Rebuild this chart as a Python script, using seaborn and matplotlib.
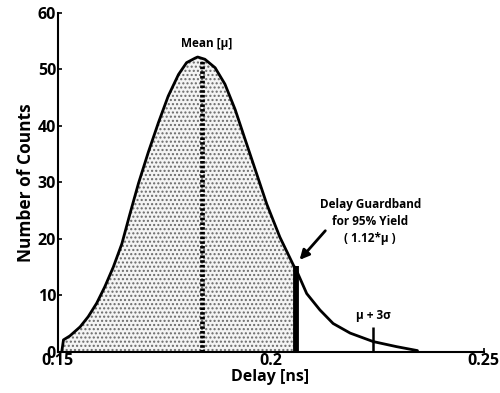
import matplotlib
matplotlib.use("Agg")
import matplotlib.pyplot as plt
import seaborn as sns
import numpy as np
import pandas as pd

# Delay distribution (ns) and number of counts along the curve
delay = [0.1510, 0.1514, 0.1529, 0.1553, 0.1572, 0.1592, 0.1611, 0.1631,
         0.1651, 0.1670, 0.1690, 0.1713, 0.1737, 0.1760, 0.1784, 0.1803,
         0.1823, 0.1829, 0.1846, 0.1870, 0.1893, 0.1917, 0.1940, 0.1964,
         0.1991, 0.2022, 0.2054, 0.2061, 0.2085, 0.2116, 0.2147, 0.2187,
         0.2241, 0.2296, 0.2345]
counts = [0.0, 2.1, 2.8, 4.4, 6.2, 8.6, 11.5, 15.0,
          19.1, 24.4, 29.8, 35.3, 40.6, 45.3, 49.1, 51.2,
          52.0, 52.2, 51.8, 50.3, 47.4, 42.9, 37.7, 32.3,
          26.2, 20.3, 15.3, 14.4, 10.3, 7.4, 5.0, 3.3,
          1.8, 0.9, 0.2]

mean_delay = 0.1839
mean_height = 51.8
guardband = 0.2061          # 1.12 * mean
guardband_height = 15.1
mu_3sigma = 0.2240
mu_3sigma_height = 4.4

xticks = [0.15, 0.2, 0.25]
xtick_labels = ["0.15", "0.2", "0.25"]
yticks = [0, 10, 20, 30, 40, 50, 60]

df = pd.DataFrame({"Delay": delay, "Counts": counts})

sns.set_style("ticks")
plt.rcParams["font.family"] = ["Open Sans", "DejaVu Sans"]
plt.rcParams["hatch.linewidth"] = 1.0
plt.rcParams["text.color"] = "black"
plt.rcParams["axes.labelcolor"] = "black"
plt.rcParams["xtick.color"] = "black"
plt.rcParams["ytick.color"] = "black"

fig = plt.figure(figsize=(5.0, 3.93), dpi=100)
ax = fig.add_axes([0.115, 0.105, 0.852, 0.862])

# stippled region up to the guardband
d = np.array(delay)
c = np.array(counts)
mask = d <= guardband + 1e-9
ax.fill_between(d[mask], 0, c[mask], facecolor="#f4f4f4", edgecolor="#6a6a6a",
                hatch="....", linewidth=0, zorder=1)

sns.lineplot(data=df, x="Delay", y="Counts", ax=ax, color="black",
             linewidth=2.0, sort=False, zorder=3)
for ln in ax.lines:
    ln.set_solid_joinstyle("round")

# mean marker
ax.plot([mean_delay, mean_delay], [0, mean_height], color="black",
        linewidth=3.4, linestyle=(0, (0.55, 0.45)), zorder=4)
# guardband bar
ax.plot([guardband, guardband], [0, guardband_height], color="black",
        linewidth=4.2, solid_capstyle="butt", zorder=4)
# mu + 3 sigma tick
ax.plot([mu_3sigma, mu_3sigma], [0, mu_3sigma_height], color="black",
        linewidth=1.8, solid_capstyle="butt", zorder=4)

ax.text(0.1851, 54.6, "Mean [\u03bc]", ha="center", va="center",
        fontsize=8.5, fontweight="bold")
ax.text(0.2234, 23.1, "Delay Guardband\nfor 95% Yield\n( 1.12*\u03bc )",
        ha="center", va="center", fontsize=8.5, fontweight="bold",
        linespacing=1.4)
ax.annotate("", xy=(0.2064, 15.9), xytext=(0.2133, 21.8),
            arrowprops=dict(arrowstyle="-|>", color="black", lw=2.0,
                            mutation_scale=14))
ax.text(0.2241, 6.4, "\u03bc + 3\u03c3", ha="center", va="center",
        fontsize=8.5, fontweight="bold")

ax.set_xlim(0.15, 0.25)
ax.set_ylim(0, 60)
ax.set_xticks(xticks)
ax.set_xticklabels(xtick_labels)
ax.set_yticks(yticks)
ax.tick_params(axis="both", direction="in", length=3, width=1.2,
               labelsize=11.5, pad=1)
for lab in ax.get_xticklabels() + ax.get_yticklabels():
    lab.set_fontweight("bold")
ax.set_xlabel("Delay [ns]", fontsize=11.5, fontweight="bold", labelpad=0)
ax.set_ylabel("Number of Counts", fontsize=12.5, fontweight="bold", labelpad=2)
for s in ["top", "right"]:
    ax.spines[s].set_visible(False)
for s in ["left", "bottom"]:
    ax.spines[s].set_linewidth(1.5)
    ax.spines[s].set_color("black")

fig.savefig("out.png", dpi=100)
